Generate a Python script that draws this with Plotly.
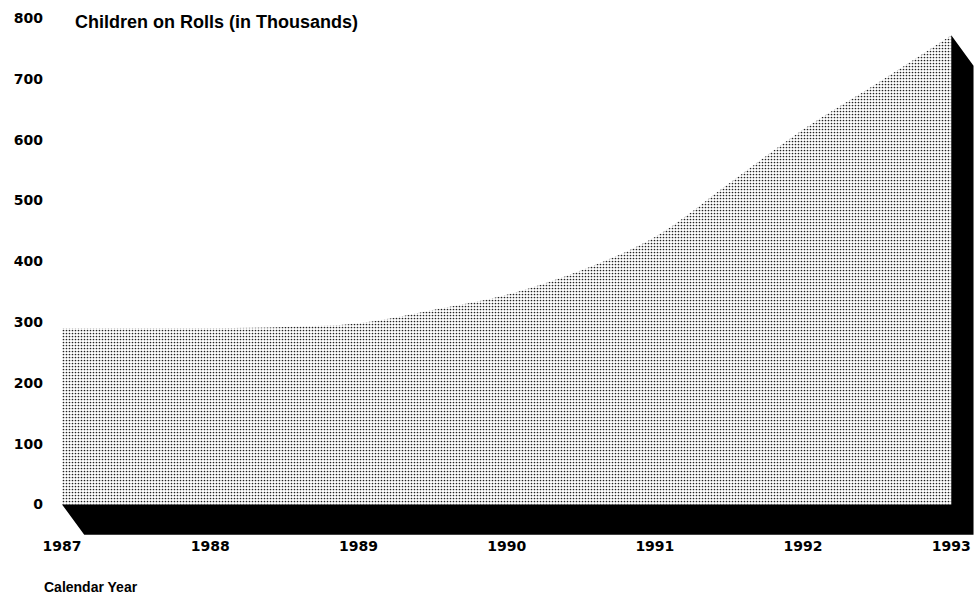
import plotly.graph_objects as go

# ---- data ----
years = [1987.0, 1987.5, 1988.0, 1988.5, 1989.0, 1989.5, 1990.0,
         1990.5, 1991.0, 1991.5, 1992.0, 1992.5, 1993.0]
children = [290, 290, 290, 292, 298, 320, 345, 385, 440, 528, 617, 693, 772]

x_tick_vals = [1987, 1988, 1989, 1990, 1991, 1992, 1993]
x_tick_text = ["1987", "1988", "1989", "1990", "1991", "1992", "1993"]
y_tick_vals = [0, 100, 200, 300, 400, 500, 600, 700, 800]

y_title = "Children on Rolls (in Thousands)"
x_title = "Calendar Year"

# ---- style ----
FONT = "DejaVu Sans"
TFONT = "Liberation Sans"
DEPTH_X = 0.15   # 3-D shadow offset (years)
DEPTH_Y = 50     # 3-D shadow offset (value units)

fig = go.Figure()

fig.add_trace(go.Scatter(
    x=years, y=children, mode="lines", line=dict(width=0, shape="spline", color="#888"),
    fill="tozeroy",
    fillpattern=dict(shape=".", size=3, solidity=0.25, fgcolor="#222", bgcolor="white", fillmode="replace"),
    hoverinfo="skip", showlegend=False,
))

# 3-D black shadow built from the first/last data points
x0, x1 = years[0], years[-1]
y1 = children[-1]
sx = [x0, x0 + DEPTH_X, x1 + DEPTH_X, x1 + DEPTH_X, x1, x1, x0]
sy = [0, -DEPTH_Y, -DEPTH_Y, y1 - DEPTH_Y, y1, 0, 0]
fig.add_trace(go.Scatter(
    x=sx, y=sy, mode="lines", fill="toself", fillcolor="black",
    line=dict(width=0, color="black"), hoverinfo="skip", showlegend=False,
))

fig.update_layout(
    width=976, height=597,
    margin=dict(l=62, r=1, t=11, b=61, autoexpand=False),
    paper_bgcolor="white", plot_bgcolor="white",
    font=dict(family=FONT, size=14, color="black"),
    xaxis=dict(range=[1987, 1993.16], tickvals=x_tick_vals, ticktext=x_tick_text,
               showgrid=False, zeroline=False, showline=False, ticks="", automargin=False,
               tickfont=dict(family=FONT, size=14, weight="bold")),
    yaxis=dict(range=[-52, 812], tickvals=y_tick_vals,
               showgrid=False, zeroline=False, showline=False, ticks="", automargin=False,
               ticklabelstandoff=18,
               tickfont=dict(family=FONT, size=14, weight="bold")),
    annotations=[
        dict(text="<b>" + y_title + "</b>", xref="paper", yref="paper",
             x=(73 - 62) / 913, y=(536 - 22) / 525, xanchor="left", yanchor="middle",
             showarrow=False, font=dict(family=TFONT, size=18)),
        dict(text="<b>" + x_title + "</b>", xref="paper", yref="paper",
             x=(42 - 62) / 913, y=(536 - 587) / 525, xanchor="left", yanchor="middle",
             showarrow=False, font=dict(family=TFONT, size=14)),
    ],
)

fig.write_html(
    "out.html",
    config={"displayModeBar": False, "staticPlot": True},
    post_script="document.body.style.margin='0';document.body.style.overflow='hidden';",
)
